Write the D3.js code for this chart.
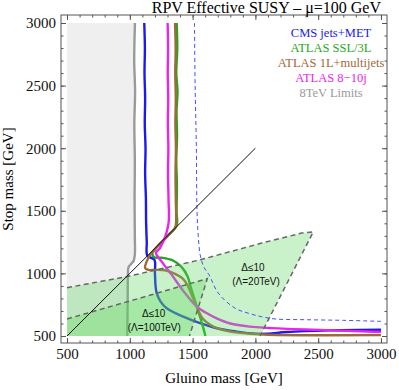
<!DOCTYPE html>
<html>
<head>
<meta charset="utf-8">
<script src="https://cdn.jsdelivr.net/npm/d3@7"></script>
<style>
  body { margin: 0; background: #fff; }
  svg { display: block; }
</style>
</head>
<body>
<svg id="chart" width="399" height="390"></svg>
<script>
// curves as [gluino, stop] in GeV
const cmsJets = [[1115,3000],[1120,2800],[1117,2600],[1122,2400],[1119,2200],[1125,2000],[1122,1800],[1128,1600],[1130,1400],[1135,1250],[1140,1140],
  [1195,1110],[1200,1000],[1205,900],[1214,842],[1245,775],[1294,722],[1426,654],[1559,602],[1692,562],[1850,535],[2000,518],[2100,518],[2250,532],[2600,545],[3000,550]];
const atlasSSL = [[1373,3000],[1378,2800],[1370,2600],[1380,2450],[1372,2300],[1376,2100],[1370,1900],[1375,1700],[1372,1500],[1372,1380],
  [1300,1300],[1220,1215],[1180,1160],[1195,1128],[1254,1125],[1340,1105],[1413,1050],[1460,975],[1485,890],[1510,810],[1533,734],[1560,650],[1585,565],[1602,500]];
const atlas1L = [[1360,3000],[1365,2800],[1362,2600],[1366,2400],[1363,2200],[1367,2000],[1364,1800],[1366,1600],[1368,1400],[1360,1365],
  [1254,1250],[1161,1148],[1134,1094],[1121,1045],[1147,1028],[1200,1028],[1280,1025],[1346,1002],[1420,960],[1460,905],[1500,810],[1533,734],
  [1580,640],[1640,590],[1700,560],[1800,535],[1957,518],[2100,510],[3000,507]];
const atlas810j = [[1301,3000],[1305,2800],[1302,2600],[1306,2400],[1303,2200],[1307,2000],[1304,1800],[1308,1600],[1307,1390],
  [1240,1202],[1208,1165],[1254,1094],[1334,988],[1426,860],[1533,734],[1600,690],[1692,641],[1800,600],[1957,575],[2100,565],[2400,552],[3000,532]];
const limits8TeV = [[1041,3000],[1035,2700],[1042,2450],[1036,2200],[1040,1900],[1038,1600],[1040,1300],[1040,1150],[1030,1100],[1010,1075],[990,1050],[985,1000],[983,800],[980,500]];
const cmsDashed = [[1515,3000],[1520,2500],[1530,2000],[1535,1500],[1545,1300],[1560,1150],[1590,1050],[1630,990],[1705,842],[1838,722],[1950,680],[2050,654],[2156,636],[2400,630],[2700,625],[3000,617]];
const diagonal = [[500,500],[2000,2000]];

// fine-tuning regions: edges not lying on the plot border
const region20 = [[500,886],[975,974],[1559,1108],[2050,1242],[2369,1322],[2461,1332],[2037,500]];
const region100 = [[500,636],[1002,780],[1617,958],[1475,500]];

const majorTicks = [500,1000,1500,2000,2500,3000];
const minorTicks = d3.range(500, 3001, 100);

const legend = [
  {name: "CMS jets+MET", color: "#1a1aee"},
  {name: "ATLAS SSL/3L", color: "#1ea81e"},
  {name: "ATLAS 1L+multijets", color: "#9e6a3a"},
  {name: "ATLAS 8\u221210j", color: "#ee22ee"},
  {name: "8TeV Limits", color: "#9a9a9a"}
];

const svg = d3.select("#chart");
const x = d3.scaleLinear().domain([452, 3048]).range([61, 387]);
const y = d3.scaleLinear().domain([444, 3064]).range([343, 15]);
const line = d3.line().x(d => x(d[0])).y(d => y(d[1]));
const smooth = d3.line().x(d => x(d[0])).y(d => y(d[1])).curve(d3.curveCatmullRom.alpha(0.5));

// grey excluded area left of the 8TeV limit
const greyArea = [[500,500],[500,3000]].concat(limits8TeV);
svg.append("path").attr("d", line(greyArea) + "Z").attr("fill", "#efefef");

const curves = [
  {d: limits8TeV, color: "#9a9a9a"},
  {d: cmsJets, color: "#1a1aee"},
  {d: atlasSSL, color: "#1ea81e"},
  {d: atlas1L, color: "#9e6a3a"},
  {d: atlas810j, color: "#ee22ee"}
];
svg.selectAll("path.curve").data(curves).join("path")
  .attr("class", "curve")
  .attr("d", c => smooth(c.d))
  .attr("fill", "none")
  .attr("stroke", c => c.color)
  .attr("stroke-width", 2.4)
  .attr("stroke-linejoin", "round");

// naturalness regions (drawn over lines, translucent)
[region20, region100].forEach(r => {
  const poly = [[500,500]].concat(r);
  svg.append("path").attr("d", line(poly) + "Z")
    .attr("fill", "rgb(90,215,90)").attr("fill-opacity", 0.32);
  svg.append("path").attr("d", line(r))
    .attr("fill", "none").attr("stroke", "#666").attr("stroke-width", 1.5)
    .attr("stroke-dasharray", "5,3.5");
});

svg.append("path").attr("d", smooth(cmsDashed))
  .attr("fill", "none").attr("stroke", "#4b4bff").attr("stroke-width", 1)
  .attr("stroke-dasharray", "4,3");

svg.append("path").attr("d", line(diagonal))
  .attr("fill", "none").attr("stroke", "#111").attr("stroke-width", 1);

// region labels
const lab = svg.append("g").attr("font-family", "Liberation Sans, Arial, sans-serif")
  .attr("font-size", 10).attr("text-anchor", "middle").attr("fill", "#111");
lab.append("text").attr("x", x(1190)).attr("y", y(652)).text("\u0394\u226410");
lab.append("text").attr("x", x(1195)).attr("y", y(540)).text("(\u039b=100TeV)");
lab.append("text").attr("x", x(1981)).attr("y", y(1023)).text("\u0394\u226410");
lab.append("text").attr("x", x(2005)).attr("y", y(911)).text("(\u039b=20TeV)");

// frame and ticks
svg.append("rect").attr("x", 61).attr("y", 15).attr("width", 326).attr("height", 328)
  .attr("fill", "none").attr("stroke", "#555").attr("stroke-width", 1);

function frameAxis(axis, tf) {
  const g = svg.append("g").attr("transform", tf).call(axis);
  g.select(".domain").remove();
  g.selectAll(".tick line").attr("stroke", "#555");
  g.selectAll("text").attr("font-family", "Liberation Serif, Times New Roman, serif").attr("font-size", 15).attr("fill", "#111");
  return g;
}
frameAxis(d3.axisBottom(x).tickValues(majorTicks).tickSize(-5).tickPadding(5).tickFormat(d3.format("d")), "translate(0,343)");
frameAxis(d3.axisBottom(x).tickValues(minorTicks).tickSize(-2.5).tickFormat(""), "translate(0,343)");
frameAxis(d3.axisTop(x).tickValues(majorTicks).tickSize(-5).tickFormat(""), "translate(0,15)");
frameAxis(d3.axisTop(x).tickValues(minorTicks).tickSize(-2.5).tickFormat(""), "translate(0,15)");
frameAxis(d3.axisLeft(y).tickValues(majorTicks).tickSize(-5).tickPadding(5).tickFormat(d3.format("d")), "translate(61,0)");
frameAxis(d3.axisLeft(y).tickValues(minorTicks).tickSize(-2.5).tickFormat(""), "translate(61,0)");
frameAxis(d3.axisRight(y).tickValues(majorTicks).tickSize(-5).tickFormat(""), "translate(387,0)");
frameAxis(d3.axisRight(y).tickValues(minorTicks).tickSize(-2.5).tickFormat(""), "translate(387,0)");

const serif = "Liberation Serif, Times New Roman, serif";
svg.append("text").attr("x", 224).attr("y", 383).attr("text-anchor", "middle")
  .attr("font-family", serif).attr("font-size", 15).text("Gluino mass [GeV]");
svg.append("text").attr("transform", "translate(13,179) rotate(-90)").attr("text-anchor", "middle")
  .attr("font-family", serif).attr("font-size", 15).text("Stop mass [GeV]");
svg.append("text").attr("x", 381).attr("y", 12.5).attr("text-anchor", "end")
  .attr("font-family", serif).attr("font-size", 16).text("RPV Effective SUSY \u2013 \u03bc=100 GeV");

svg.append("g").selectAll("text").data(legend).join("text")
  .attr("x", 331).attr("y", (d, i) => 36.5 + i * 15.1)
  .attr("text-anchor", "middle").attr("font-family", serif).attr("font-size", 12.5)
  .attr("fill", d => d.color).text(d => d.name);
</script>
</body>
</html>
